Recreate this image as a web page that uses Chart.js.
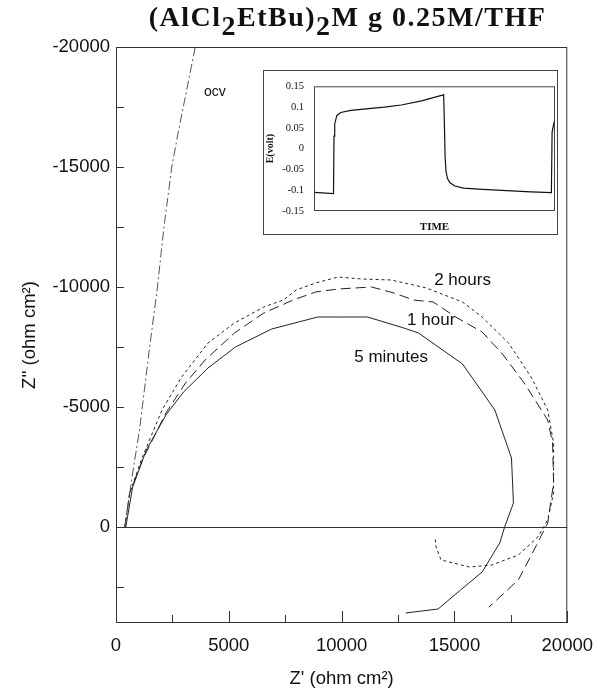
<!DOCTYPE html>
<html>
<head>
<meta charset="utf-8">
<script src="https://cdn.jsdelivr.net/npm/chart.js@4/dist/chart.umd.min.js"></script>
<style>
body{margin:0;background:#fff;}
#wrap{position:relative;width:605px;height:691px;}
#title{position:absolute;left:0;width:605px;top:1px;text-align:center;padding-left:90px;box-sizing:border-box;
  font-family:"Liberation Serif",serif;font-weight:bold;font-size:28px;letter-spacing:1.5px;color:#111;white-space:nowrap;}
#title sub{font-size:28px;vertical-align:-9px;line-height:0;}
#inset{position:absolute;left:263px;top:70px;width:295px;height:165px;background:#fff;}
</style>
</head>
<body>
<div id="wrap">
  <canvas id="mainChart"></canvas>
  <div id="title">(AlCl<sub>2</sub>EtBu)<sub>2</sub>M g 0.25M/THF</div>
  <div id="inset"><canvas id="insetChart"></canvas></div>
</div>
<script>
// impedance data, Z' and Z'' in ohm cm2
let ocvX=[390,521,738,1041,1475,1822,2126,2473,2777,3514];
let ocvY=[0,-833,-2250,-4042,-7375,-9875,-12500,-15000,-16542,-20000];

let min5X=[434,738,1345,2213,2993,4078,5293,6898,8937,10022,11150,12755,13406,15358,16790,17527,17614,17223,17007,16226,15271,14273,12842];
let min5Y=[0,-1667,-3208,-4667,-5625,-6625,-7500,-8250,-8750,-8750,-8750,-8292,-8083,-6792,-4875,-2875,-1000,0,667,1875,2625,3417,3583];

let hour1X=[390,607,1171,2213,3080,3948,5249,6551,7852,8850,9848,11323,12321,13189,14056,15054,16226,17093,18091,19132,19349,19393,19132,18525,17831,16529];
let hour1Y=[0,-1417,-2792,-4750,-6000,-6958,-8083,-8917,-9458,-9792,-9917,-10000,-9750,-9458,-9375,-8750,-8125,-7250,-6000,-4458,-3500,-1833,-167,958,2208,3333];

let hour2X=[390,607,1171,2039,2907,4078,5249,6551,7419,7983,8850,9848,10889,12191,13189,13753,15358,16226,17397,18395,19132,19393,19393,19132,18698,17831,16659,15662,14403,14187,14143];
let hour2Y=[0,-1417,-2917,-4875,-6250,-7667,-8500,-9167,-9458,-9875,-10167,-10417,-10333,-10292,-10083,-9958,-9375,-8750,-7667,-6250,-4875,-3500,-1417,-292,417,1167,1583,1667,1375,833,458];

let seriesNames=['ocv','5 minutes','1 hour','2 hours'];

// tick positions (labels only on the 5000 ones)
let xTickVals=[0,2500,5000,7500,10000,12500,15000,17500,20000];
let yTickVals=[-20000,-17500,-15000,-12500,-10000,-7500,-5000,-2500,0,2500];

// inset: potential vs time
let timeVals=[0,8.1,8.3,8.6,9.5,11.1,15.3,23.7,29.2,36.2,44.6,52.9,53.8,54.1,54.4,54.8,55.4,56.4,58.5,62,70,80,90,98.5,98.8,99.3,100];
let voltVals=[-0.105,-0.108,0.03,0.06,0.08,0.087,0.092,0.097,0.1,0.105,0.115,0.128,0.13,0.06,-0.02,-0.055,-0.072,-0.082,-0.09,-0.095,-0.098,-0.101,-0.104,-0.106,0.04,0.055,0.072];
let voltTicks=[-0.15,-0.1,-0.05,0,0.05,0.1,0.15];

function pts(xs,ys){
    let out=[];
    for(let i=0;i<xs.length;i++){ out.push({x:xs[i],y:ys[i]}); }
    return out;
}
function fixedTicks(vals){
    return function(scale){ scale.ticks=vals.map(v=>({value:v})); };
}

let sans='"Liberation Sans", Arial, sans-serif';
let serif='"Liberation Serif", "Times New Roman", serif';

let curveLabels=[
    {text:'ocv',x:4382,y:-18125,size:14},
    {text:'2 hours',x:15358,y:-10292,size:17},
    {text:'1 hour',x:13970,y:-8625,size:17},
    {text:'5 minutes',x:12191,y:-7083,size:17}
];

let frameAndTicks={
    id:'frameAndTicks',
    afterDatasetsDraw(chart){
        let ctx=chart.ctx;
        let a=chart.chartArea;
        let xs=chart.scales.x, ys=chart.scales.y;
        ctx.save();
        ctx.strokeStyle='#333';
        ctx.lineWidth=1;
        ctx.strokeRect(a.left+0.5,a.top+0.5,a.right-a.left-1,a.bottom-a.top-1);
        ctx.beginPath();
        xs.ticks.forEach(t=>{
            let px=Math.round(xs.getPixelForValue(t.value))+0.5;
            let len=(t.value%5000===0)?12:8;
            ctx.moveTo(px,a.bottom);
            ctx.lineTo(px,a.bottom-len);
        });
        ys.ticks.forEach(t=>{
            let py=Math.round(ys.getPixelForValue(t.value))+0.5;
            ctx.moveTo(a.left,py);
            ctx.lineTo(a.left+8,py);
        });
        // zero line
        let py0=Math.round(ys.getPixelForValue(0))+0.5;
        ctx.moveTo(a.left,py0);
        ctx.lineTo(a.right,py0);
        ctx.stroke();
        ctx.fillStyle='#111';
        ctx.textAlign='center';
        ctx.textBaseline='middle';
        curveLabels.forEach(l=>{
            ctx.font=l.size+'px '+sans;
            ctx.fillText(l.text,xs.getPixelForValue(l.x),ys.getPixelForValue(l.y));
        });
        ctx.restore();
    }
};

new Chart(document.getElementById('mainChart'),{
    type:'scatter',
    data:{
        datasets:[
            {label:seriesNames[0],data:pts(ocvX,ocvY),showLine:true,borderColor:'#555',borderWidth:1,borderDash:[9,3,2,3],pointRadius:0},
            {label:seriesNames[1],data:pts(min5X,min5Y),showLine:true,borderColor:'#222',borderWidth:1,pointRadius:0},
            {label:seriesNames[2],data:pts(hour1X,hour1Y),showLine:true,borderColor:'#222',borderWidth:1,borderDash:[10,5],pointRadius:0},
            {label:seriesNames[3],data:pts(hour2X,hour2Y),showLine:true,borderColor:'#222',borderWidth:1,borderDash:[3,3],pointRadius:0}
        ]
    },
    options:{
        responsive:true,
        maintainAspectRatio:false,
        animation:false,
        layout:{padding:{left:0,top:47,right:28,bottom:0}},
        plugins:{legend:{display:false},tooltip:{enabled:false}},
        scales:{
            x:{
                type:'linear',min:0,max:20000,
                afterFit(s){ s.height=68; },
                afterBuildTicks:fixedTicks(xTickVals),
                grid:{display:false,drawTicks:false},
                border:{display:false},
                ticks:{color:'#111',padding:12,maxRotation:0,autoSkip:false,
                    font:{family:sans,size:18.5},
                    callback:v=>(v%5000===0)?String(v):''},
                title:{display:true,text:"Z' (ohm cm\u00B2)",color:'#111',font:{family:sans,size:18.5},padding:{top:0,bottom:1}}
            },
            y:{
                type:'linear',min:-20000,max:4000,reverse:true,
                afterFit(s){ s.width=116; },
                afterBuildTicks:fixedTicks(yTickVals),
                grid:{display:false,drawTicks:false},
                border:{display:false},
                ticks:{color:'#111',padding:6,autoSkip:false,
                    font:{family:sans,size:18.5},
                    callback:v=>(v%5000===0&&v<=0)?String(v):''},
                title:{display:true,text:"Z'' (ohm cm\u00B2)",color:'#111',font:{family:sans,size:18.5},padding:{top:19,bottom:0}}
            }
        }
    },
    plugins:[frameAndTicks]
});

let insetFrame={
    id:'insetFrame',
    afterDatasetsDraw(chart){
        let ctx=chart.ctx;
        let a=chart.chartArea;
        ctx.save();
        ctx.strokeStyle='#444';
        ctx.lineWidth=1;
        ctx.strokeRect(0.5,0.5,chart.width-1,chart.height-1);
        ctx.strokeRect(a.left+0.5,a.top+0.5,a.right-a.left-1,a.bottom-a.top-1);
        ctx.restore();
    }
};

new Chart(document.getElementById('insetChart'),{
    type:'scatter',
    data:{
        datasets:[{label:'E',data:pts(timeVals,voltVals),showLine:true,borderColor:'#111',borderWidth:1.2,pointRadius:0}]
    },
    options:{
        responsive:true,
        maintainAspectRatio:false,
        animation:false,
        layout:{padding:{left:0,top:6,right:3,bottom:0}},
        plugins:{legend:{display:false},tooltip:{enabled:false}},
        scales:{
            x:{
                type:'linear',min:0,max:100,
                afterFit(s){ s.height=24; },
                grid:{display:false,drawTicks:false},border:{display:false},
                ticks:{display:false},
                title:{display:true,text:'TIME',color:'#111',font:{family:serif,size:11,weight:'bold'},padding:{top:0,bottom:1}}
            },
            y:{
                type:'linear',min:-0.15,max:0.15,
                afterFit(s){ s.width=51; },
                afterBuildTicks:fixedTicks(voltTicks),
                grid:{display:false,drawTicks:false},border:{display:false},
                ticks:{color:'#111',padding:10,font:{family:serif,size:10.5},
                    callback:v=>String(v)},
                title:{display:true,text:'E(volt)',color:'#111',font:{family:serif,size:10,weight:'bold'},padding:{top:1,bottom:0}}
            }
        }
    },
    plugins:[insetFrame]
});
</script>
</body>
</html>
